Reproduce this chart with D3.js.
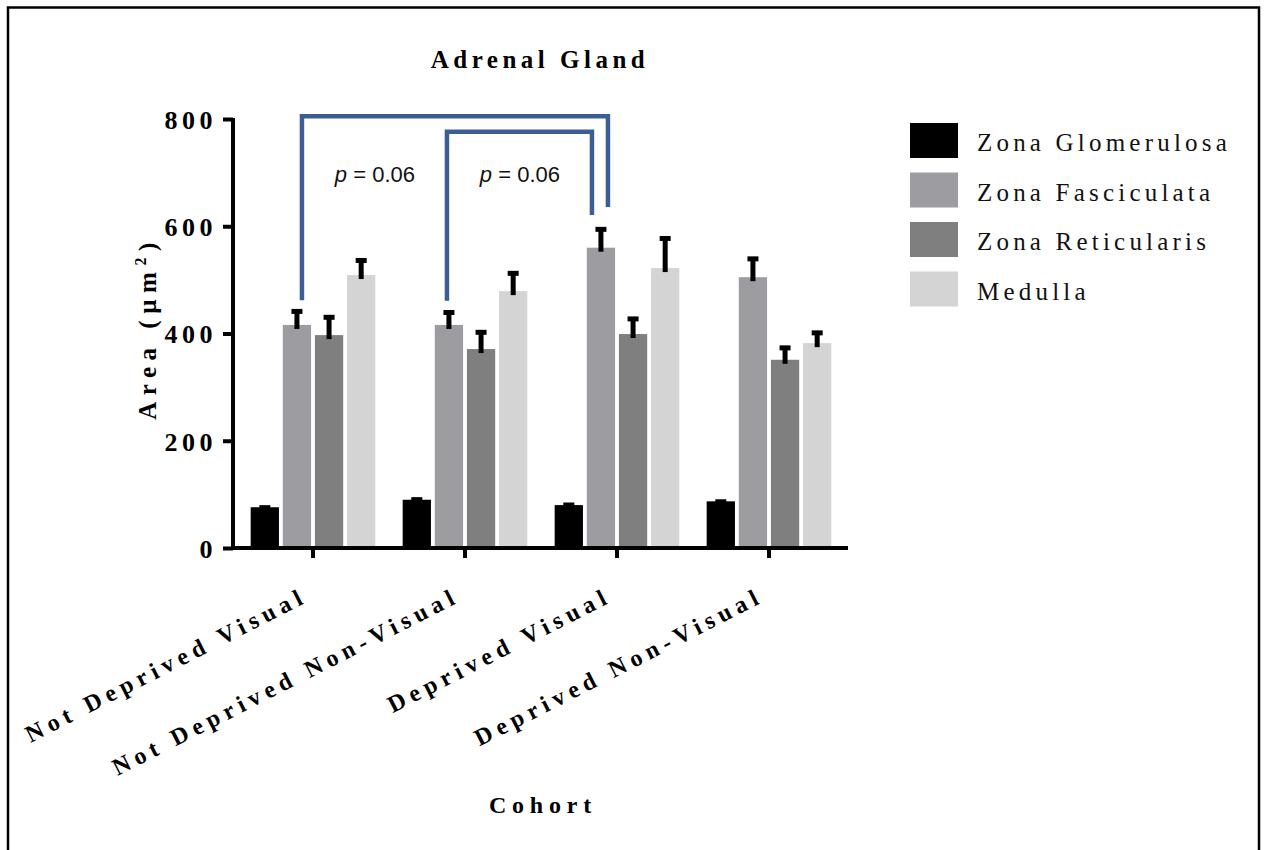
<!DOCTYPE html>
<html>
<head>
<meta charset="utf-8">
<script src="https://cdn.jsdelivr.net/npm/d3@7"></script>
<style>
  body { margin: 0; background: #fff; }
</style>
</head>
<body>
<div id="chart"></div>
<script>
var cohorts = ["Not Deprived Visual", "Not Deprived Non-Visual", "Deprived Visual", "Deprived Non-Visual"];
var zones = ["Zona Glomerulosa", "Zona Fasciculata", "Zona Reticularis", "Medulla"];
var zoneColors = ["#000000", "#9d9da1", "#7f7f7f", "#d4d4d4"];

// mean area per cohort, one list per zone
var glomerulosa = [76, 90, 80, 87];
var fasciculata = [416, 416, 560, 505];
var reticularis = [397, 371, 399, 351];
var medulla = [509, 479, 522, 382];

// SEM
var glomerulosaErr = [2, 3, 3, 2];
var fasciculataErr = [28, 26, 37, 37];
var reticularisErr = [36, 34, 31, 25];
var medullaErr = [30, 36, 58, 22];

var yTicks = [0, 200, 400, 600, 800];

// comparisons drawn as brackets: [left cohort, right cohort, top, left foot, right foot, label]
var comparisons = [
  ["Not Deprived Visual", "Deprived Visual", 805, 462, 636, "0.06"],
  ["Not Deprived Non-Visual", "Deprived Visual", 776, 461, 621, "0.06"]
];

var means = [glomerulosa, fasciculata, reticularis, medulla];
var errs = [glomerulosaErr, fasciculataErr, reticularisErr, medullaErr];

var rows = [];
cohorts.forEach(function(c, i) {
  zones.forEach(function(z, j) {
    rows.push({cohort: c, zone: z, value: means[j][i], err: errs[j][i], color: zoneColors[j]});
  });
});

var serif = "'Liberation Serif', 'Times New Roman', serif";

var W = 1264, H = 850;
var svg = d3.select("#chart").append("svg")
  .attr("width", W).attr("height", H)
  .style("font-family", serif);

// outer frame (bottom edge runs off the picture)
svg.append("rect")
  .attr("x", 8).attr("y", 7.5).attr("width", 1251).attr("height", 860)
  .attr("fill", "none").attr("stroke", "#000").attr("stroke-width", 2.5);

var y = d3.scaleLinear().domain([0, 800]).range([548, 119]);

var x0 = d3.scaleBand()
  .domain(cohorts)
  .range([237, 845])
  .paddingInner(0.18)
  .paddingOuter(0.09);

var x1 = d3.scaleBand()
  .domain(zones)
  .range([0, x0.bandwidth()])
  .paddingInner(0.12);

// bars
var bars = svg.append("g");
bars.selectAll("rect")
  .data(rows)
  .enter().append("rect")
  .attr("x", function(d) { return x0(d.cohort) + x1(d.zone); })
  .attr("y", function(d) { return y(d.value); })
  .attr("width", x1.bandwidth())
  .attr("height", function(d) { return y(0) - y(d.value); })
  .attr("fill", function(d) { return d.color; });

// error bars (upper only)
var eb = svg.append("g").attr("stroke", "#000");
rows.forEach(function(d) {
  var cx = x0(d.cohort) + x1(d.zone) + x1.bandwidth() / 2;
  eb.append("line")
    .attr("stroke-width", 5)
    .attr("x1", cx).attr("x2", cx)
    .attr("y1", y(d.value) + 4).attr("y2", y(d.value + d.err));
  eb.append("line")
    .attr("stroke-width", 5)
    .attr("x1", cx - 5.5).attr("x2", cx + 5.5)
    .attr("y1", y(d.value + d.err) + 1.5).attr("y2", y(d.value + d.err) + 1.5);
});

// y axis
var yAxis = svg.append("g")
  .attr("transform", "translate(233,0)")
  .call(d3.axisLeft(y).tickValues(yTicks).tickSize(10).tickSizeOuter(0).tickPadding(6));
yAxis.select(".domain").attr("stroke-width", 4).attr("d", "M0," + (y(0) + 2) + "V" + (y(800) - 1));
yAxis.selectAll(".tick line").attr("stroke-width", 4);
yAxis.selectAll(".tick text")
  .style("font-family", serif)
  .attr("font-size", 26).attr("font-weight", "bold")
  .attr("letter-spacing", 4.5)
  .attr("dy", "0.36em")
  .attr("fill", "#000");

// x axis
var xAxis = svg.append("g")
  .attr("transform", "translate(0," + y(0) + ")")
  .call(d3.axisBottom(x0).tickSize(10).tickSizeOuter(0).tickFormat(""));
xAxis.select(".domain").attr("stroke-width", 4).attr("d", "M231,0H848");
xAxis.selectAll(".tick line").attr("stroke-width", 4);

// rotated cohort labels
svg.append("g").selectAll("text")
  .data(cohorts)
  .enter().append("text")
  .attr("transform", function(d) {
    return "translate(" + (x0(d) + x0.bandwidth() / 2 - 4) + ",601) rotate(-27)";
  })
  .attr("text-anchor", "end")
  .attr("font-size", 24).attr("font-weight", "bold")
  .attr("letter-spacing", 5.5)
  .text(function(d) { return d; });

// titles
svg.append("text")
  .attr("x", 540).attr("y", 68)
  .attr("text-anchor", "middle")
  .attr("font-size", 25).attr("font-weight", "bold")
  .attr("letter-spacing", 4.5)
  .text("Adrenal Gland");

svg.append("text")
  .attr("x", 543).attr("y", 813)
  .attr("text-anchor", "middle")
  .attr("font-size", 24).attr("font-weight", "bold")
  .attr("letter-spacing", 5.8)
  .text("Cohort");

var yl = svg.append("text")
  .attr("transform", "translate(156,328) rotate(-90)")
  .attr("text-anchor", "middle")
  .attr("font-size", 25).attr("font-weight", "bold")
  .attr("letter-spacing", 6.5);
yl.append("tspan").text("Area (µm");
yl.append("tspan").attr("dy", -10).attr("font-size", 16).text("2");
yl.append("tspan").attr("dy", 10).text(")");

// significance brackets
var bg = svg.append("g");
comparisons.forEach(function(c, i) {
  var fz = "Zona Fasciculata";
  var xl = x0(c[0]) + x1(fz) + x1.bandwidth() / 2 + (i === 0 ? 5 : -2);
  var xr = x0(c[1]) + x1(fz) + x1.bandwidth() / 2 + (i === 0 ? 7 : -9);
  bg.append("path")
    .attr("d", "M" + xl + "," + y(c[3]) + "V" + y(c[2]) + "H" + xr + "V" + y(c[4]))
    .attr("fill", "none")
    .attr("stroke", "#3c5e95")
    .attr("stroke-width", 4.5)
    .attr("stroke-linejoin", "miter");
  var t = bg.append("text")
    .attr("x", xl + 73).attr("y", 182)
    .attr("text-anchor", "middle")
    .style("font-family", "'Liberation Sans', Arial, sans-serif")
    .attr("font-size", 22)
    .attr("fill", "#111");
  t.append("tspan").attr("font-style", "italic").text("p");
  t.append("tspan").text(" = " + c[5]);
});

// legend
var lg = svg.append("g").attr("transform", "translate(910,123)");
zones.forEach(function(z, i) {
  var row = lg.append("g").attr("transform", "translate(0," + (i * 49.5) + ")");
  row.append("rect")
    .attr("width", 48).attr("height", 35)
    .attr("fill", zoneColors[i]);
  row.append("text")
    .attr("x", 67).attr("y", 28)
    .attr("font-size", 25)
    .attr("letter-spacing", 4.2)
    .attr("fill", "#111")
    .text(z);
});
</script>
</body>
</html>
